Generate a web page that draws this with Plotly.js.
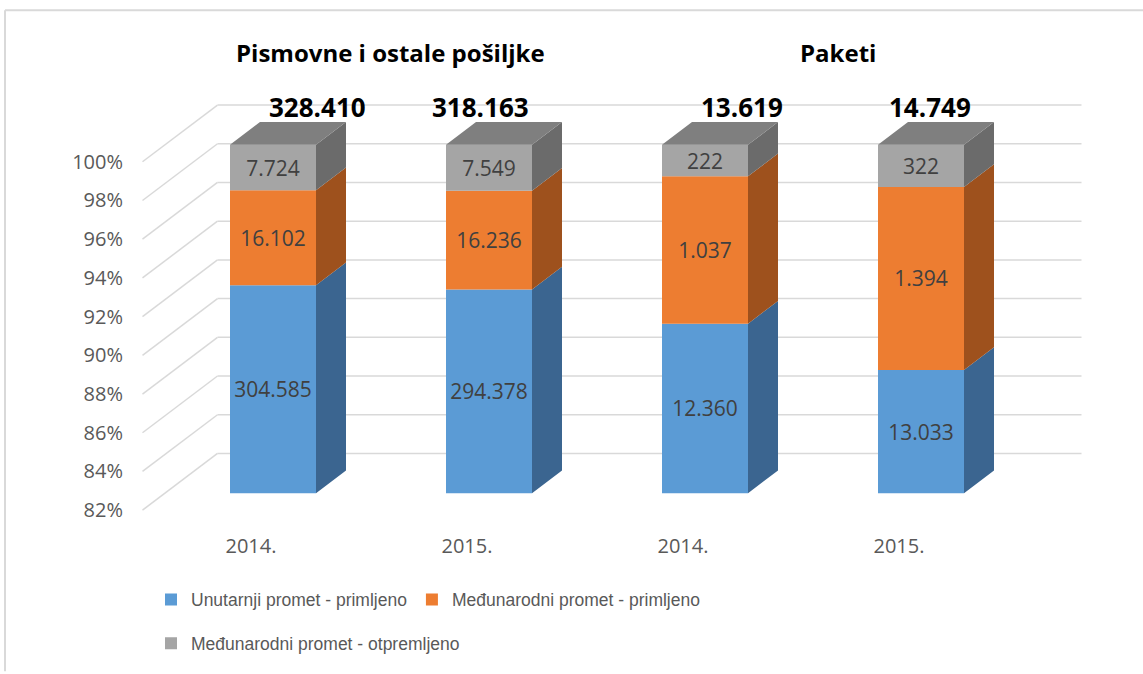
<!DOCTYPE html>
<html>
<head>
<meta charset="utf-8">
<script src="https://cdn.plot.ly/plotly-3.0.1.min.js"></script>
<style>html,body{margin:0;padding:0;background:#fff;}#chart{width:1143px;height:674px;}</style>
</head>
<body>
<div id="chart"></div>
<script>
// ---- data ----
const categories = ['2014.', '2015.', '2014.', '2015.'];
const groupTitles = ['Pismovne i ostale pošiljke', 'Paketi'];
const unutarnjiPrimljeno = [304585, 294378, 12360, 13033];
const medjunarodniPrimljeno = [16102, 16236, 1037, 1394];
const medjunarodniOtpremljeno = [7724, 7549, 222, 322];
const totals = [328410, 318163, 13619, 14749];
const seriesNames = ['Unutarnji promet - primljeno', 'Međunarodni promet - primljeno', 'Međunarodni promet - otpremljeno'];
const yTickVals = [82, 84, 86, 88, 90, 92, 94, 96, 98, 100];
const yTickText = ['82%', '84%', '86%', '88%', '90%', '92%', '94%', '96%', '98%', '100%'];

// ---- geometry / style (not data) ----
const W = 1143, H = 674;
const M = {l: 140, r: 30, t: 90, b: 144};
const plotW = W - M.l - M.r, plotH = H - M.t - M.b;
const CAT_PX = 216;            // px per category
const PCT_PX = 350 / 18;       // px per percent on the bar front face
const X0_PX = 273;             // px of category 0 (bar front centre)
const Y82_PX = 495;            // px of 82% on bar front face
const BAR_W = 86 / CAT_PX;
const DX = 75 / CAT_PX, DY = 57 / PCT_PX;   // full depth offset in data units
const FRONT_D = 0.3, BACK_D = 0.7;
const xRange = [(M.l - X0_PX) / CAT_PX, (W - M.r - X0_PX) / CAT_PX];
const yRange = [82 - (H - M.b - Y82_PX) / PCT_PX, 82 + (Y82_PX - M.t) / PCT_PX];
const pxX = px => (px - M.l) / plotW;
const pxY = py => (H - M.b - py) / plotH;
function proj(x, v, d) { return [x + (d - FRONT_D) * DX, v + (d - FRONT_D) * DY]; }

const colors = {
  front: ['#5B9BD5', '#ED7D31', '#A5A5A5'],
  side: ['#3B6590', '#9E511D', '#6B6B6B'],
  top: '#7F7F7F'
};
const fmt = n => n.toString().replace(/\B(?=(\d{3})+(?!\d))/g, '.');

// ---- derived percentages ----
const idx = categories.map((c, i) => i);
const sums = idx.map(i => unutarnjiPrimljeno[i] + medjunarodniPrimljeno[i] + medjunarodniOtpremljeno[i]);
const series = [unutarnjiPrimljeno, medjunarodniPrimljeno, medjunarodniOtpremljeno];
const pct = series.map(s => s.map((v, i) => v / sums[i] * 100));
const bases = [idx.map(() => 82), pct[0], idx.map(i => pct[0][i] + pct[1][i])];
const tops = [pct[0], idx.map(i => pct[0][i] + pct[1][i]), idx.map(() => 100)];

const traces = [];
// front faces (bars)
series.forEach((s, k) => {
  traces.push({
    type: 'bar', x: idx, base: bases[k],
    y: idx.map(i => tops[k][i] - bases[k][i]),
    width: BAR_W, name: seriesNames[k],
    marker: {color: colors.front[k], line: {width: 0}},
    text: s.map(fmt), textposition: 'inside', insidetextanchor: 'middle',
    constraintext: 'none',
    textfont: {family: 'Open Sans', size: 21, color: '#404040'},
    hoverinfo: 'skip',
    legend: k === 2 ? 'legend2' : 'legend'
  });
});
// side faces
series.forEach((s, k) => {
  const xs = [], ys = [];
  idx.forEach(i => {
    const xr = i + BAR_W / 2;
    const pts = [proj(xr, bases[k][i], FRONT_D), proj(xr, bases[k][i], BACK_D),
                 proj(xr, tops[k][i], BACK_D), proj(xr, tops[k][i], FRONT_D)];
    pts.forEach(p => { xs.push(p[0]); ys.push(p[1]); });
    xs.push(pts[0][0]); ys.push(pts[0][1]);
    xs.push(null); ys.push(null);
  });
  traces.push({type: 'scatter', mode: 'lines', x: xs, y: ys, fill: 'toself',
    fillcolor: colors.side[k], line: {width: 0, color: colors.side[k]},
    showlegend: false, hoverinfo: 'skip'});
});
// top faces
(function () {
  const xs = [], ys = [];
  idx.forEach(i => {
    const xl = i - BAR_W / 2, xr = i + BAR_W / 2;
    const pts = [proj(xl, 100, FRONT_D), proj(xl, 100, BACK_D), proj(xr, 100, BACK_D), proj(xr, 100, FRONT_D)];
    pts.forEach(p => { xs.push(p[0]); ys.push(p[1]); });
    xs.push(pts[0][0]); ys.push(pts[0][1]);
    xs.push(null); ys.push(null);
  });
  traces.push({type: 'scatter', mode: 'lines', x: xs, y: ys, fill: 'toself',
    fillcolor: colors.top, line: {width: 0, color: colors.top},
    showlegend: false, hoverinfo: 'skip'});
})();
// dummy trace to carry the shifted y tick labels
traces.push({type: 'scatter', x: [0], y: [90], yaxis: 'y2', mode: 'markers',
  marker: {opacity: 0}, showlegend: false, hoverinfo: 'skip'});

// gridlines: back wall + left wall diagonals
const shapes = [];
const WALL_L = -0.5, WALL_R = 3.5;
yTickVals.forEach(v => {
  const a = proj(WALL_L, v, 0), b = proj(WALL_L, v, 1), c = proj(WALL_R, v, 1);
  shapes.push({type: 'line', layer: 'below', xref: 'x', yref: 'y', x0: a[0], y0: a[1], x1: b[0], y1: b[1], line: {color: '#D9D9D9', width: 1.5}});
  shapes.push({type: 'line', layer: 'below', xref: 'x', yref: 'y', x0: b[0], y0: b[1], x1: c[0], y1: c[1], line: {color: '#D9D9D9', width: 1.5}});
});
// outer frame (top and left edges visible)
shapes.push({type: 'line', xref: 'paper', yref: 'paper', x0: pxX(5), x1: pxX(1143), y0: pxY(10), y1: pxY(10), line: {color: '#D9D9D9', width: 2}});
shapes.push({type: 'line', xref: 'paper', yref: 'paper', x0: pxX(5), x1: pxX(5), y0: pxY(10), y1: pxY(674), line: {color: '#D9D9D9', width: 2}});

const annotations = [];
const titleShift = [9, 25];
groupTitles.forEach((t, g) => {
  annotations.push({text: '<b>' + t + '</b>', xref: 'x', yref: 'paper', x: 2 * g + 0.5, y: pxY(52),
    xanchor: 'center', yanchor: 'middle',
    xshift: titleShift[g], showarrow: false, font: {family: 'Open Sans', size: 24, color: '#000'}});
});
const totalShift = [44, -9, 37, 9];
totals.forEach((t, i) => {
  annotations.push({text: '<b>' + fmt(t) + '</b>', xref: 'x', yref: 'paper', x: i, y: pxY(107),
    xanchor: 'center', yanchor: 'middle',
    xshift: totalShift[i], showarrow: false, font: {family: 'Open Sans', size: 26, color: '#000'}});
});

const legendFont = {family: 'Liberation Sans, Arial', size: 17.5, color: '#595959'};
const layout = {
  width: W, height: H,
  margin: M,
  paper_bgcolor: '#fff', plot_bgcolor: 'rgba(0,0,0,0)',
  barmode: 'overlay',
  showlegend: true,
  xaxis: {range: xRange, tickvals: idx, ticktext: categories, showgrid: false, zeroline: false,
    showline: false, ticks: '', ticklabelshift: -22, ticklabelstandoff: 4,
    tickfont: {family: 'Open Sans', size: 20, color: '#595959'}, fixedrange: true},
  yaxis: {range: yRange, showgrid: false, zeroline: false, showticklabels: false, ticks: '', fixedrange: true},
  yaxis2: {overlaying: 'y', side: 'left', range: [yRange[0] + FRONT_D * DY, yRange[1] + FRONT_D * DY],
    tickvals: yTickVals, ticktext: yTickText, showgrid: false, zeroline: false, ticks: '',
    ticklabelstandoff: 16,
    tickfont: {family: 'Open Sans', size: 20, color: '#595959'}, fixedrange: true},
  legend: {orientation: 'h', x: pxX(151), xanchor: 'left', y: pxY(602), yanchor: 'middle',
    font: legendFont, bgcolor: 'rgba(0,0,0,0)', borderwidth: 0, tracegroupgap: 0},
  legend2: {orientation: 'h', x: pxX(151), xanchor: 'left', y: pxY(646), yanchor: 'middle',
    font: legendFont, bgcolor: 'rgba(0,0,0,0)', borderwidth: 0},
  shapes: shapes,
  annotations: annotations
};

Plotly.newPlot('chart', traces, layout, {displayModeBar: false, staticPlot: true});
</script>
</body>
</html>
